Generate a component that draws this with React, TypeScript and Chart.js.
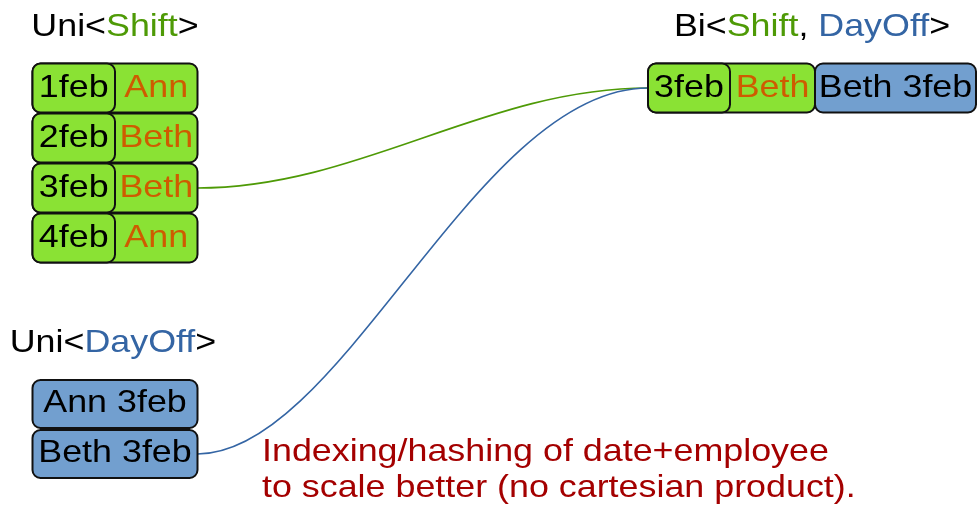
import React, { useEffect, useRef } from "react";
import { Chart, registerables } from "chart.js";

Chart.register(...registerables);

// ---- data ----
const shiftDates = ["1feb", "2feb", "3feb", "4feb"];
const shiftEmployees = ["Ann", "Beth", "Beth", "Ann"];
const dayOffEmployees = ["Ann", "Beth"];
const dayOffDates = ["3feb", "3feb"];
const noteLines = [
  "Indexing/hashing of date+employee",
  "to scale better (no cartesian product).",
];

// ---- style / layout ----
const W = 977;
const H = 513;
const FONT = '"Liberation Sans", Arial, sans-serif';
const FONT_PX = 32;
const SX = 1.12;
const C = {
  black: "#000000",
  green: "#4e9a06",
  blue: "#3465a4",
  orange: "#ce5c00",
  red: "#a40000",
  greenFill: "#8ae234",
  blueFill: "#729fcf",
  border: "#111111",
};
const L = {
  leftX0: 32.5,
  leftSplit: 115,
  leftX1: 197.5,
  shiftTop: 63.5,
  shiftStep: 50,
  shiftH: 49,
  dayTop: 380,
  dayStep: 50,
  dayH: 48,
  biX0: 648,
  biSplit1: 730,
  biSplit2: 815,
  biX1: 976,
  biTop: 63.5,
  biH: 49,
  title1Base: 36,
  title2Base: 352,
  noteX: 262,
  noteBase: 461,
  noteStep: 36,
  radius: 8,
  textOff: 9,
  dayTextOff: 8,
};

type Part = { text: string; color: string };

function drawRich(
  ctx: CanvasRenderingContext2D,
  parts: Part[],
  x: number,
  y: number,
  align: "left" | "center"
) {
  ctx.save();
  ctx.font = `${FONT_PX}px ${FONT}`;
  const w = parts.reduce((s, p) => s + ctx.measureText(p.text).width, 0) * SX;
  const start = align === "center" ? x - w / 2 : x;
  ctx.translate(start, y);
  ctx.scale(SX, 1);
  ctx.textAlign = "left";
  ctx.textBaseline = "alphabetic";
  let cx = 0;
  for (const p of parts) {
    ctx.fillStyle = p.color;
    ctx.fillText(p.text, cx, 0);
    cx += ctx.measureText(p.text).width;
  }
  ctx.restore();
}

function box(
  ctx: CanvasRenderingContext2D,
  x0: number,
  y0: number,
  x1: number,
  y1: number,
  fill: string
) {
  ctx.save();
  ctx.beginPath();
  ctx.roundRect(x0, y0, x1 - x0, y1 - y0, L.radius);
  ctx.fillStyle = fill;
  ctx.fill();
  ctx.lineWidth = 2;
  ctx.strokeStyle = C.border;
  ctx.stroke();
  ctx.restore();
}

function curve(
  ctx: CanvasRenderingContext2D,
  x0: number,
  y0: number,
  x1: number,
  y1: number,
  color: string,
  a: number,
  b: number
) {
  const dx = x1 - x0;
  ctx.save();
  ctx.beginPath();
  ctx.moveTo(x0, y0);
  ctx.bezierCurveTo(x0 + dx * a, y0, x1 - dx * b, y1, x1, y1);
  ctx.strokeStyle = color;
  ctx.lineWidth = 1.6;
  ctx.stroke();
  ctx.restore();
}

const diagramPlugin = {
  id: "diagram",
  afterDraw(chart: any) {
    const ctx: CanvasRenderingContext2D = chart.ctx;
    const xs = chart.scales.x;
    const ys = chart.scales.y;
    const px = (v: number) => xs.getPixelForValue(v);
    const py = (v: number) => ys.getPixelForValue(v);

    // joins: shift date+employee matches dayOff employee+date
    const joins: { s: number; d: number }[] = [];
    shiftDates.forEach((date, s) => {
      dayOffEmployees.forEach((emp, d) => {
        if (shiftEmployees[s] === emp && dayOffDates[d] === date) joins.push({ s, d });
      });
    });

    // curves first
    joins.forEach((j, ji) => {
      const sMid = L.shiftTop + j.s * L.shiftStep + L.shiftH / 2;
      const dMid = L.dayTop + j.d * L.dayStep + L.dayH / 2;
      const bMid = L.biTop + ji * L.shiftStep + L.biH / 2;
      curve(ctx, px(L.leftX1), py(sMid), px(L.biX0), py(bMid), C.green, 0.36, 0.36);
      curve(ctx, px(L.leftX1), py(dMid), px(L.biX0), py(bMid), C.blue, 0.32, 0.38);
    });

    // titles
    const leftCenter = (L.leftX0 + L.leftX1) / 2;
    drawRich(
      ctx,
      [
        { text: "Uni<", color: C.black },
        { text: "Shift", color: C.green },
        { text: ">", color: C.black },
      ],
      px(leftCenter),
      py(L.title1Base),
      "center"
    );
    drawRich(
      ctx,
      [
        { text: "Bi<", color: C.black },
        { text: "Shift", color: C.green },
        { text: ", ", color: C.black },
        { text: "DayOff", color: C.blue },
        { text: ">", color: C.black },
      ],
      px((L.biX0 + L.biX1) / 2),
      py(L.title1Base),
      "center"
    );
    drawRich(
      ctx,
      [
        { text: "Uni<", color: C.black },
        { text: "DayOff", color: C.blue },
        { text: ">", color: C.black },
      ],
      px(leftCenter - 2),
      py(L.title2Base),
      "center"
    );

    // Uni<Shift> rows
    shiftDates.forEach((date, i) => {
      const t = L.shiftTop + i * L.shiftStep;
      const b = t + L.shiftH;
      box(ctx, px(L.leftX0), py(t), px(L.leftX1), py(b), C.greenFill);
      box(ctx, px(L.leftX0), py(t), px(L.leftSplit), py(b), C.greenFill);
      const base = py((t + b) / 2 + L.textOff);
      drawRich(ctx, [{ text: date, color: C.black }], px((L.leftX0 + L.leftSplit) / 2), base, "center");
      drawRich(ctx, [{ text: shiftEmployees[i], color: C.orange }], px((L.leftSplit + L.leftX1) / 2), base, "center");
    });

    // Uni<DayOff> rows
    dayOffEmployees.forEach((emp, i) => {
      const t = L.dayTop + i * L.dayStep;
      const b = t + L.dayH;
      box(ctx, px(L.leftX0), py(t), px(L.leftX1), py(b), C.blueFill);
      drawRich(
        ctx,
        [{ text: `${emp} ${dayOffDates[i]}`, color: C.black }],
        px(leftCenter),
        py((t + b) / 2 + L.dayTextOff),
        "center"
      );
    });

    // Bi<Shift, DayOff> rows
    joins.forEach((j, ji) => {
      const t = L.biTop + ji * L.shiftStep;
      const b = t + L.biH;
      box(ctx, px(L.biX0), py(t), px(L.biSplit2), py(b), C.greenFill);
      box(ctx, px(L.biX0), py(t), px(L.biSplit1), py(b), C.greenFill);
      box(ctx, px(L.biSplit2), py(t), px(L.biX1), py(b), C.blueFill);
      const base = py((t + b) / 2 + L.textOff);
      drawRich(ctx, [{ text: shiftDates[j.s], color: C.black }], px((L.biX0 + L.biSplit1) / 2), base, "center");
      drawRich(ctx, [{ text: shiftEmployees[j.s], color: C.orange }], px((L.biSplit1 + L.biSplit2) / 2), base, "center");
      drawRich(
        ctx,
        [{ text: `${dayOffEmployees[j.d]} ${dayOffDates[j.d]}`, color: C.black }],
        px((L.biSplit2 + L.biX1) / 2),
        base,
        "center"
      );
    });

    // note
    noteLines.forEach((line, i) => {
      drawRich(ctx, [{ text: line, color: C.red }], px(L.noteX), py(L.noteBase + i * L.noteStep), "left");
    });
  },
};

export default function App() {
  const canvasRef = useRef<HTMLCanvasElement | null>(null);

  useEffect(() => {
    document.body.style.margin = "0";
    document.body.style.background = "#ffffff";
    const canvas = canvasRef.current;
    if (!canvas) return;
    const chart = new Chart(canvas, {
      type: "scatter",
      data: { datasets: [] },
      options: {
        animation: false,
        responsive: false,
        devicePixelRatio: 1,
        layout: { padding: 0 },
        plugins: { legend: { display: false }, tooltip: { enabled: false } },
        scales: {
          x: { type: "linear", min: 0, max: W, display: false },
          y: { type: "linear", min: 0, max: H, reverse: true, display: false },
        },
      },
      plugins: [diagramPlugin],
    });
    return () => chart.destroy();
  }, []);

  return (
    <div style={{ width: W, height: H, background: "#fff" }}>
      <canvas ref={canvasRef} width={W} height={H} style={{ display: "block" }} />
    </div>
  );
}
